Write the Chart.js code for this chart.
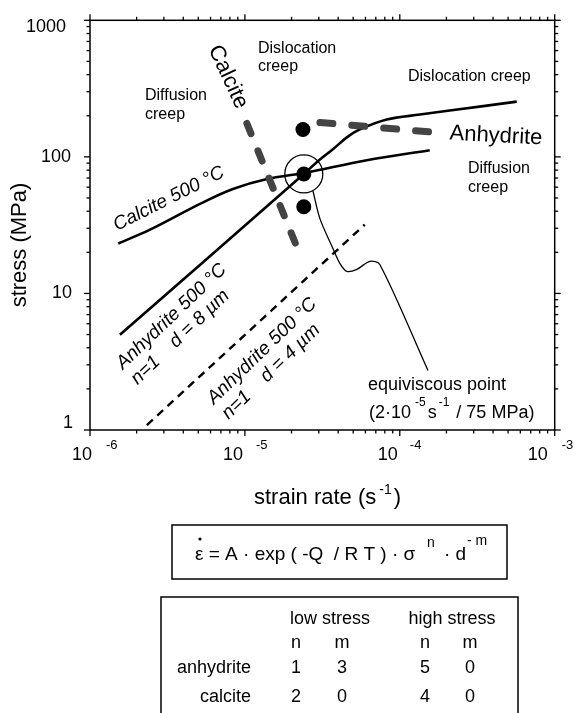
<!DOCTYPE html>
<html><head><meta charset="utf-8">
<script src="https://cdn.jsdelivr.net/npm/chart.js@4/dist/chart.umd.min.js"></script>
<style>html,body{margin:0;padding:0;background:#fff}canvas{display:block}</style>
</head><body>
<canvas id="c" width="575" height="713" style="width:575px;height:713px"></canvas>
<script>
// ---- tick labels ----
const xTickValues = [1e-6, 1e-5, 1e-4, 1e-3];
const xTickExponents = ['-6', '-5', '-4', '-3'];
const yTickValues = [1, 10, 100, 1000];
const yTickLabels = ['1', '10', '100', '1000'];

// ---- Calcite 500 °C flow curve ----
const calciteRate   = [1.52e-6, 2.44e-6, 5.13e-6, 8.37e-6, 1.39e-5, 2.40e-5, 6.12e-5, 1.56e-4];
const calciteStress = [23.2, 29.3, 45.3, 58.2, 68.8, 76.1, 94.6, 111.8];

// ---- Anhydrite 500 °C, d = 8 µm ----
const anhy8Rate   = [1.56e-6, 2.40e-5, 2.96e-5, 3.70e-5, 4.55e-5, 5.52e-5, 8.24e-5, 1.35e-4, 2.10e-4, 5.69e-4];
const anhy8Stress = [4.98, 74.8, 93.0, 113.7, 138.9, 158.8, 187.7, 204.1, 218.3, 253.7];

// ---- Anhydrite 500 °C, d = 4 µm (dashed) ----
const anhy4Rate   = [2.33e-6, 5.94e-5];
const anhy4Stress = [1.087, 31.9];

// ---- Deformation-mechanism boundaries (thick grey dashes) ----
const calciteBoundRate   = [1.03e-5, 2.33e-5];
const calciteBoundStress = [175.6, 17.8];
const anhyBoundRate   = [3.05e-5, 1.68e-4];
const anhyBoundStress = [178.6, 151.1];

// ---- Filled points ----
const dotRate   = [2.37e-5, 2.40e-5, 2.40e-5];
const dotStress = [158.8, 75, 43.1];

// ---- Equiviscous point (open circle) ----
const equiRate = [2.40e-5];
const equiStress = [75];

// ---- Leader line to the annotation ----
const leaderRate   = [2.75e-5, 3.05e-5, 3.70e-5, 4.10e-5, 4.55e-5, 5.28e-5, 6.40e-5, 7.43e-5, 1.52e-4];
const leaderStress = [56.3, 35.3, 21.3, 16.6, 14.5, 15.0, 17.2, 16.3, 2.73];

const pts = (xs, ys) => xs.map((x, i) => ({x, y: ys[i]}));
const FONT = '"Liberation Sans", Arial, Helvetica, sans-serif';
const GREY = '#444444';

function line(ctx, x1, y1, x2, y2) { ctx.beginPath(); ctx.moveTo(x1, y1); ctx.lineTo(x2, y2); ctx.stroke(); }
function text(ctx, s, x, y, size, align = 'left', style = '', baseline = 'middle') {
  ctx.font = `${style} ${size}px ${FONT}`;
  ctx.textAlign = align; ctx.textBaseline = baseline;
  ctx.fillText(s, x, y);
}
function rtext(ctx, lines, x, y, deg, size, style = '', gap = 21) {
  ctx.save();
  ctx.translate(x, y); ctx.rotate(deg * Math.PI / 180);
  ctx.font = `${style} ${size}px ${FONT}`;
  ctx.textAlign = 'left'; ctx.textBaseline = 'alphabetic';
  lines.forEach((l, i) => ctx.fillText(l, 0, i * gap));
  ctx.restore();
}

const decor = {
  id: 'decor',
  afterDraw(chart) {
    const ctx = chart.ctx, ca = chart.chartArea;
    const xs = chart.scales.x, ys = chart.scales.y;
    ctx.save();
    ctx.fillStyle = '#000'; ctx.strokeStyle = '#000';
    // frame
    ctx.lineWidth = 1.5;
    ctx.strokeRect(ca.left, ca.top, ca.right - ca.left, ca.bottom - ca.top);
    // ticks
    ctx.lineWidth = 1.3;
    for (let e = -6; e <= -3; e++) for (let k = 1; k <= 9; k++) {
      const v = k * Math.pow(10, e); if (v > 1.0001e-3) break;
      const p = xs.getPixelForValue(v); const L = k === 1 ? 6 : 3.5;
      line(ctx, p, ca.bottom, p, ca.bottom + L);
      line(ctx, p, ca.top, p, ca.top - L);
    }
    for (let e = 0; e <= 3; e++) for (let k = 1; k <= 9; k++) {
      const v = k * Math.pow(10, e); if (v > 1000.1) break;
      const p = ys.getPixelForValue(v); const L = k === 1 ? 6 : 3.5;
      line(ctx, ca.left, p, ca.left - L, p);
      line(ctx, ca.right, p, ca.right + L, p);
    }
    // y tick labels
    const yOff = [-7, 0, 0, 7];
    const yRight = [73, 72, 71, 66];
    yTickValues.forEach((v, i) => {
      text(ctx, yTickLabels[i], yRight[i], ys.getPixelForValue(v) + yOff[i], 18, 'right');
    });
    // x tick labels with superscript exponents
    const supOff = [16, 11, 10, 7];
    const baseOff = [2, -2, -2, -7];
    xTickValues.forEach((v, i) => {
      const p = xs.getPixelForValue(v);
      text(ctx, '10', p + baseOff[i], 455, 18, 'right');
      text(ctx, xTickExponents[i], p + supOff[i], 445, 13, 'left');
    });
    // axis titles
    const t1 = 'strain rate (s', t2 = ')';
    ctx.font = `22px ${FONT}`; const w1 = ctx.measureText(t1).width; const w2 = ctx.measureText(t2).width;
    ctx.font = `14px ${FONT}`; const ws = ctx.measureText('-1').width;
    const tot = w1 + 3 + ws + 2 + w2; let x0 = 327.5 - tot / 2;
    text(ctx, t1, x0, 498, 22, 'left');
    text(ctx, '-1', x0 + w1 + 3, 490, 14, 'left');
    text(ctx, t2, x0 + w1 + 3 + ws + 2, 498, 22, 'left');
    ctx.save(); ctx.translate(20, 245); ctx.rotate(-Math.PI / 2);
    text(ctx, 'stress (MPa)', 0, 0, 22, 'center'); ctx.restore();

    // region labels
    text(ctx, 'Dislocation', 258, 49, 16); text(ctx, 'creep', 258, 67, 16);
    text(ctx, 'Diffusion', 145, 96, 16); text(ctx, 'creep', 145, 115, 16);
    text(ctx, 'Dislocation creep', 408, 77, 16);
    text(ctx, 'Diffusion', 468, 169, 16); text(ctx, 'creep', 468, 188, 16);
    // mechanism boundary names
    ctx.save(); ctx.translate(228, 77); ctx.rotate(65 * Math.PI / 180);
    text(ctx, 'Calcite', 0, 0, 22, 'center'); ctx.restore();
    ctx.save(); ctx.translate(496, 136); ctx.rotate(3 * Math.PI / 180);
    text(ctx, 'Anhydrite', 0, 0, 22, 'center'); ctx.restore();
    // curve labels
    rtext(ctx, ['Calcite 500 °C'], 117, 231, -26.8, 19, 'italic');
    rtext(ctx, ['Anhydrite 500 °C', 'n=1    d = 8 µm'], 123, 370, -43.6, 19, 'italic');
    rtext(ctx, ['Anhydrite 500 °C', 'n=1    d = 4 µm'], 214, 405, -44, 19, 'italic');
    // equiviscous annotation
    text(ctx, 'equiviscous point', 368, 385, 18);
    let ax = 369;
    ctx.font = `18px ${FONT}`;
    text(ctx, '(2·10', ax, 413, 18); ax += ctx.measureText('(2·10').width + 4;
    text(ctx, '-5', ax, 403, 12); ctx.font = `12px ${FONT}`; ax += ctx.measureText('-5').width + 2;
    text(ctx, 's', ax, 413, 18); ctx.font = `18px ${FONT}`; ax += ctx.measureText('s').width + 2;
    text(ctx, '-1', ax, 403, 12); ctx.font = `12px ${FONT}`; ax += ctx.measureText('-1').width + 2;
    text(ctx, ' / 75 MPa)', ax, 413, 18);

    // equation box
    ctx.lineWidth = 1.5;
    ctx.strokeRect(172, 525, 335, 54);
    text(ctx, 'ε = A · exp ( -Q  / R T ) · σ', 195, 560, 19, 'left', '', 'alphabetic');
    ctx.beginPath(); ctx.arc(200, 539, 1.6, 0, Math.PI * 2); ctx.fill();
    text(ctx, 'n', 427, 547, 14, 'left', '', 'alphabetic');
    text(ctx, '· d', 444, 560, 19, 'left', '', 'alphabetic');
    text(ctx, '- m', 467, 545, 14, 'left', '', 'alphabetic');

    // exponent table
    ctx.beginPath(); ctx.moveTo(161, 720); ctx.lineTo(161, 597); ctx.lineTo(518, 597); ctx.lineTo(518, 720); ctx.stroke();
    text(ctx, 'low stress', 330, 619, 18, 'center');
    text(ctx, 'high stress', 452, 619, 18, 'center');
    const cols = [296, 342, 425, 470];
    ['n', 'm', 'n', 'm'].forEach((s, i) => text(ctx, s, cols[i], 643, 18, 'center'));
    text(ctx, 'anhydrite', 251, 668, 18, 'right');
    ['1', '3', '5', '0'].forEach((s, i) => text(ctx, s, cols[i], 668, 18, 'center'));
    text(ctx, 'calcite', 251, 697, 18, 'right');
    ['2', '0', '4', '0'].forEach((s, i) => text(ctx, s, cols[i], 697, 18, 'center'));
    ctx.restore();
  }
};

const lineDS = (label, data, extra) => Object.assign({
  label, data, type: 'line', borderColor: '#000', borderWidth: 2.6, pointRadius: 0,
  fill: false, tension: 0.35, showLine: true
}, extra);

new Chart(document.getElementById('c'), {
  type: 'scatter',
  data: {
    datasets: [
      lineDS('Calcite boundary', pts(calciteBoundRate, calciteBoundStress),
        {borderColor: GREY, borderWidth: 7, borderDash: [11, 18.5], borderCapStyle: 'round', tension: 0}),
      lineDS('Anhydrite boundary', pts(anhyBoundRate, anhyBoundStress),
        {borderColor: GREY, borderWidth: 7, borderDash: [13, 19], borderCapStyle: 'round', tension: 0}),
      lineDS('Calcite 500 °C', pts(calciteRate, calciteStress)),
      lineDS('Anhydrite 500 °C d = 8 µm', pts(anhy8Rate, anhy8Stress)),
      lineDS('Anhydrite 500 °C d = 4 µm', pts(anhy4Rate, anhy4Stress), {borderDash: [8, 6], borderWidth: 2.4, tension: 0}),
      lineDS('leader', pts(leaderRate, leaderStress), {borderWidth: 1.3, tension: 0.3}),
      {label: 'points', data: pts(dotRate, dotStress), pointRadius: 7.5, pointHoverRadius: 7.5,
        backgroundColor: '#000', borderColor: '#000', borderWidth: 0, showLine: false},
      {label: 'equiviscous', data: pts(equiRate, equiStress), pointRadius: 19, pointHoverRadius: 19,
        backgroundColor: 'rgba(0,0,0,0)', borderColor: '#000', borderWidth: 1.3, showLine: false}
    ]
  },
  options: {
    responsive: false, animation: false, devicePixelRatio: 1,
    layout: {padding: {left: 90, top: 17, right: 20, bottom: 283}},
    plugins: {legend: {display: false}, tooltip: {enabled: false}},
    scales: {
      x: {type: 'logarithmic', min: 1e-6, max: 1e-3, display: false},
      y: {type: 'logarithmic', min: 1, max: 1000, display: false}
    }
  },
  plugins: [decor]
});
</script>
</body></html>
